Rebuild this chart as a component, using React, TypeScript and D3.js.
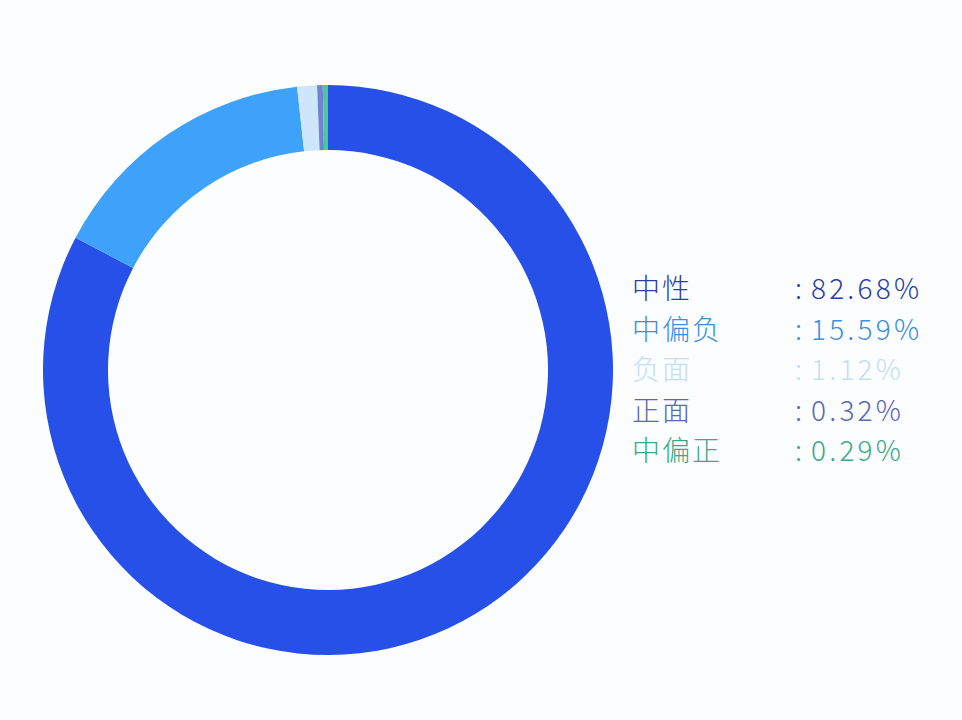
import * as d3 from 'd3';
import { useEffect, useRef } from 'react';

const labels = ['中性', '中偏负', '负面', '正面', '中偏正'];
const values = [82.68, 15.59, 1.12, 0.32, 0.29];
const sliceColors = ['#2650e8', '#3ea2fb', '#cfe5fa', '#7082d6', '#4cc99c'];
const textColors = ['#2a3ea6', '#3b90dc', '#c6def3', '#5a66b6', '#3aa98a'];

export default function App() {
    const svgRef = useRef<SVGSVGElement>(null);
    const width = 962;
    const height = 720;
    const cx = 328;
    const cy = 370;
    const outerR = 285;
    const innerR = 220;

    useEffect(() => {
        const svg = d3.select(svgRef.current);
        svg.selectAll('*').remove();

        svg.append('rect')
            .attr('width', width)
            .attr('height', height)
            .attr('fill', '#fcfdff');

        const pie = d3.pie<number>().sort(null).value((d) => d);
        const arc = d3.arc<d3.PieArcDatum<number>>().innerRadius(innerR).outerRadius(outerR);

        svg.append('g')
            .attr('transform', `translate(${cx}, ${cy})`)
            .selectAll('path')
            .data(pie(values))
            .enter()
            .append('path')
            .attr('d', arc)
            .attr('fill', (_, i) => sliceColors[i]);

        const rowY = d3.scalePoint<number>().domain(d3.range(labels.length)).range([299, 461]);

        const legend = svg.append('g')
            .style('font-family', '"Noto Sans CJK SC", "Noto Sans", sans-serif')
            .style('font-weight', '300')
            .style('font-size', '28px')
            .style('letter-spacing', '2px');

        legend.selectAll('.name')
            .data(labels)
            .enter()
            .append('text')
            .attr('x', 632)
            .attr('y', (_, i) => rowY(i) || 0)
            .attr('fill', (_, i) => textColors[i])
            .text((d) => d);

        legend.selectAll('.colon')
            .data(values)
            .enter()
            .append('text')
            .attr('x', 795)
            .attr('y', (_, i) => rowY(i) || 0)
            .attr('fill', (_, i) => textColors[i])
            .text(':');

        legend.selectAll('.val')
            .data(values)
            .enter()
            .append('text')
            .attr('x', 811)
            .attr('y', (_, i) => rowY(i) || 0)
            .attr('fill', (_, i) => textColors[i])
            .style('letter-spacing', '3.2px')
            .text((d) => `${d.toFixed(2)}%`);
    }, []);

    return (
        <div style={{ position: 'fixed', left: 0, top: 0 }}>
            <svg ref={svgRef} width={width} height={height} style={{ display: 'block' }}></svg>
        </div>
    );
}
